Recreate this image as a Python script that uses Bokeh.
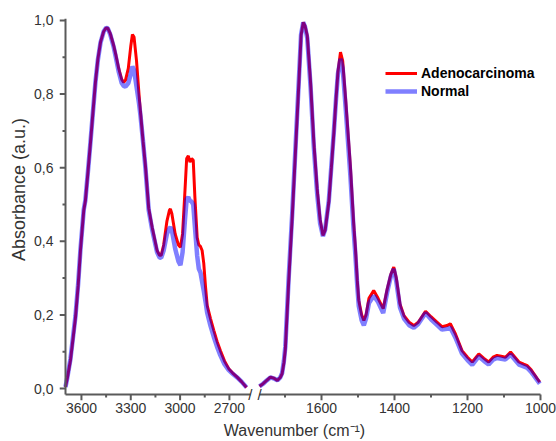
from bokeh.plotting import figure
from bokeh.models import (Range1d, FixedTicker, CustomJSTickFormatter, Label,
                          Legend, LegendItem, ColumnDataSource)
from bokeh.core.properties import value
from bokeh.layouts import row, column
from bokeh.embed import file_html
from bokeh.resources import INLINE

# ---------------- data ----------------
wn_high = [3697, 3685, 3667, 3650, 3636, 3620, 3606, 3586, 3576, 3560,
           3545, 3530, 3515, 3500, 3484, 3465, 3450, 3440, 3425, 3404,
           3390, 3373, 3355, 3343, 3332, 3315, 3300, 3290, 3280, 3265,
           3250, 3241, 3225, 3211, 3191, 3170, 3140, 3125, 3115, 3100,
           3080, 3065, 3059, 3050, 3030, 3010, 2998, 2985, 2970, 2960,
           2950, 2940, 2930, 2920, 2910, 2896, 2886, 2876, 2866, 2856,
           2845, 2835, 2815, 2795, 2775, 2755, 2730, 2704, 2680, 2653,
           2625, 2596]
adeno_high = [0.004, 0.03, 0.076, 0.14, 0.194, 0.28, 0.375, 0.484, 0.51, 0.59,
              0.669, 0.75, 0.832, 0.895, 0.941, 0.97, 0.98, 0.979, 0.965, 0.932,
              0.905, 0.869, 0.84, 0.832, 0.838, 0.87, 0.93, 0.962, 0.955, 0.89,
              0.80, 0.752, 0.67, 0.606, 0.49, 0.438, 0.375, 0.362, 0.362, 0.39,
              0.455, 0.484, 0.488, 0.475, 0.42, 0.39, 0.384, 0.42, 0.54, 0.625,
              0.632, 0.615, 0.625, 0.62, 0.52, 0.41, 0.39, 0.386, 0.375, 0.34,
              0.275, 0.225, 0.19, 0.158, 0.128, 0.103, 0.075, 0.054, 0.042, 0.031,
              0.018, 0.003]
normal_high = [0.004, 0.032, 0.08, 0.145, 0.198, 0.285, 0.378, 0.486, 0.512, 0.592,
               0.67, 0.752, 0.832, 0.893, 0.94, 0.97, 0.98, 0.979, 0.962, 0.928,
               0.898, 0.86, 0.83, 0.822, 0.82, 0.83, 0.855, 0.875, 0.865, 0.82,
               0.775, 0.742, 0.67, 0.6, 0.485, 0.432, 0.37, 0.356, 0.355, 0.375,
               0.42, 0.435, 0.438, 0.43, 0.38, 0.345, 0.335, 0.37, 0.46, 0.515,
               0.52, 0.51, 0.508, 0.5, 0.44, 0.36, 0.325, 0.315, 0.29, 0.265,
               0.235, 0.205, 0.17, 0.14, 0.113, 0.09, 0.066, 0.05, 0.04, 0.03,
               0.018, 0.003]

wn_low = [1770, 1760, 1750, 1740, 1730, 1721, 1713, 1708, 1703, 1699,
          1690, 1680, 1671, 1662, 1656, 1650, 1645, 1639, 1630, 1621,
          1612, 1604, 1596, 1590, 1580, 1573, 1566, 1560, 1555, 1548,
          1542, 1534, 1521, 1512, 1507, 1502, 1498, 1490, 1484, 1478,
          1470, 1457, 1445, 1431, 1420, 1410, 1402, 1395, 1385, 1374,
          1360, 1347, 1335, 1315, 1300, 1283, 1270, 1256, 1247, 1233,
          1215, 1200, 1187, 1169, 1155, 1142, 1130, 1119, 1108, 1096,
          1082, 1070, 1059, 1046, 1036, 1025, 1018, 1010, 1002]
adeno_low = [0.006, 0.013, 0.022, 0.031, 0.028, 0.022, 0.03, 0.04, 0.07, 0.108,
             0.289, 0.47, 0.651, 0.832, 0.959, 0.995, 0.985, 0.959, 0.832, 0.669,
             0.543, 0.46, 0.416, 0.43, 0.506, 0.6, 0.697, 0.79, 0.86, 0.914,
             0.89, 0.787, 0.606, 0.45, 0.38, 0.293, 0.24, 0.2, 0.185, 0.2,
             0.245, 0.266, 0.245, 0.217, 0.27, 0.31, 0.33, 0.3, 0.23, 0.198,
             0.18, 0.171, 0.18, 0.21, 0.195, 0.18, 0.168, 0.171, 0.176, 0.148,
             0.103, 0.085, 0.072, 0.094, 0.082, 0.072, 0.085, 0.09, 0.088, 0.085,
             0.099, 0.085, 0.072, 0.066, 0.062, 0.05, 0.04, 0.028, 0.017]
normal_low = [0.006, 0.013, 0.022, 0.03, 0.027, 0.022, 0.03, 0.042, 0.075, 0.115,
              0.3, 0.48, 0.66, 0.84, 0.962, 0.995, 0.982, 0.952, 0.82, 0.655,
              0.53, 0.45, 0.414, 0.432, 0.51, 0.605, 0.7, 0.79, 0.855, 0.896,
              0.87, 0.765, 0.58, 0.43, 0.36, 0.278, 0.225, 0.185, 0.172, 0.19,
              0.232, 0.252, 0.235, 0.205, 0.262, 0.305, 0.325, 0.29, 0.22, 0.19,
              0.172, 0.165, 0.175, 0.205, 0.188, 0.172, 0.16, 0.162, 0.165, 0.138,
              0.095, 0.077, 0.064, 0.087, 0.075, 0.065, 0.078, 0.083, 0.081, 0.079,
              0.092, 0.078, 0.065, 0.06, 0.056, 0.044, 0.035, 0.024, 0.013]

series_names = ["Adenocarcinoma", "Normal"]
y_ticks = [0.0, 0.2, 0.4, 0.6, 0.8, 1.0]
y_minor = [0.1, 0.3, 0.5, 0.7, 0.9]
x_ticks_high = [3600, 3300, 3000, 2700]
x_minor_high = [3450, 3150, 2850]
x_ticks_low = [1600, 1400, 1200, 1000]
x_minor_low = [1700, 1500, 1300, 1100]
high_span = (3697, 2572)      # extent of the left axis segment
low_span = (1770, 1000)       # extent of the right axis segment

# ---------------- layout / styling ----------------
FONT = "Liberation Sans"
AXC = "#5a5a5a"
TXT = "#333333"
RED = "#ff0000"
BLUE = "#0000ff"

FRAME_H = 382                              # frame height in px
Y_START, Y_END = -0.0326, 1.0054
PX_Y = (Y_END - Y_START) / FRAME_H         # data units per px (y)
Y_AXIS = Y_START + 6 * PX_Y                # x-axis line sits 6 px above frame bottom
y_range = Range1d(Y_START, Y_END)

XR_HIGH = (3733.5, 2547.4)                 # left frame: 195 px wide
XR_LOW = (1783.6, 994.5)                   # right frame: 288 px wide
PX_XH = (XR_HIGH[0] - XR_HIGH[1]) / 195
PX_XL = (XR_LOW[0] - XR_LOW[1]) / 288


def hide_axis_marks(ax):
    ax.axis_line_color = None
    ax.major_tick_line_color = None
    ax.minor_tick_line_color = None
    ax.major_tick_in = 0
    ax.major_tick_out = 0
    ax.minor_tick_in = 0
    ax.minor_tick_out = 0
    ax.major_label_text_font = FONT
    ax.major_label_text_font_size = "14px"
    ax.major_label_text_color = TXT


def draw_x_axis(p, span, ticks, minor):
    """Axis rule and ticks drawn as filled bars inside the frame."""
    p.rect(x=[(span[0] + span[1]) / 2], y=Y_AXIS, width=abs(span[0] - span[1]),
           height=2, height_units="screen", fill_color=AXC, line_color=None)
    p.rect(x=ticks, y=Y_AXIS - 3 * PX_Y, width=2, width_units="screen",
           height=6, height_units="screen", fill_color=AXC, line_color=None)
    p.rect(x=minor, y=Y_AXIS - 1.5 * PX_Y, width=2, width_units="screen",
           height=3, height_units="screen", fill_color=AXC, line_color=None)


def break_mark(p, x):
    src = ColumnDataSource(dict(x=[x], y=[Y_AXIS], s=["/"]))
    p.text(x="x", y="y", text="s", source=src, text_align="center",
           text_baseline="middle", text_font=value(FONT),
           text_font_size="15px", text_color=TXT)


common = dict(height=419, y_range=y_range, toolbar_location=None,
              output_backend="svg", min_border_top=18, min_border_bottom=19)

# ---------- left (high wavenumber) panel ----------
p1 = figure(width=254, x_range=Range1d(*XR_HIGH),
            min_border_left=59, min_border_right=0, **common)
p1.outline_line_color = None
p1.grid.visible = False
src_h = ColumnDataSource(dict(x=wn_high, a=adeno_high, n=normal_high))
p1.line("x", "a", source=src_h, line_color=RED, line_width=3)
p1.line("x", "n", source=src_h, line_color=BLUE, line_alpha=0.5, line_width=4.5)

xa1 = p1.xaxis[0]
hide_axis_marks(xa1)
xa1.ticker = FixedTicker(ticks=x_ticks_high, minor_ticks=x_minor_high)
xa1.major_label_standoff = 2
draw_x_axis(p1, high_span, x_ticks_high, x_minor_high)
break_mark(p1, high_span[1])

ya = p1.yaxis[0]
hide_axis_marks(ya)
ya.ticker = FixedTicker(ticks=y_ticks, minor_ticks=y_minor)
ya.formatter = CustomJSTickFormatter(code="return tick.toFixed(1).replace('.', ',');")
ya.major_label_standoff = 6
ya.axis_label = "\u00a0" * 8 + "Absorbance (a.u.)"
ya.axis_label_standoff = 2
ya.axis_label_text_font = FONT
ya.axis_label_text_font_size = "18px"
ya.axis_label_text_font_style = "normal"
ya.axis_label_text_color = TXT
# y-axis rule and ticks (filled bars inside the frame)
p1.rect(x=high_span[0], y=(Y_AXIS + Y_END) / 2, width=2, width_units="screen",
        height=Y_END - Y_AXIS, fill_color=AXC, line_color=None)
p1.rect(x=high_span[0] + 3 * PX_XH, y=y_ticks, width=6, width_units="screen",
        height=2, height_units="screen", fill_color=AXC, line_color=None)
p1.rect(x=high_span[0] + 1.5 * PX_XH, y=y_minor, width=3, width_units="screen",
        height=2, height_units="screen", fill_color=AXC, line_color=None)

# ---------- right (fingerprint) panel ----------
p2 = figure(width=302, x_range=Range1d(*XR_LOW), y_axis_location=None,
            min_border_left=0, min_border_right=14, **common)
p2.outline_line_color = None
p2.grid.visible = False
src_l = ColumnDataSource(dict(x=wn_low, a=adeno_low, n=normal_low))
r_a = p2.line("x", "a", source=src_l, line_color=RED, line_width=3)
r_n = p2.line("x", "n", source=src_l, line_color=BLUE, line_alpha=0.5, line_width=4.5)

xa2 = p2.xaxis[0]
hide_axis_marks(xa2)
xa2.ticker = FixedTicker(ticks=x_ticks_low, minor_ticks=x_minor_low)
xa2.major_label_standoff = 2
draw_x_axis(p2, low_span, x_ticks_low, x_minor_low)
break_mark(p2, low_span[0])

legend = Legend(items=[LegendItem(label=series_names[0], renderers=[r_a]),
                       LegendItem(label=series_names[1], renderers=[r_n])],
                location=(131, 301), orientation="vertical",
                glyph_width=32, glyph_height=16, label_height=16,
                label_standoff=4, spacing=2, padding=0, margin=0,
                border_line_color=None, background_fill_alpha=0,
                label_text_font=FONT, label_text_font_style="bold",
                label_text_font_size="14px", label_text_color="black")
p2.add_layout(legend)

# ---------- x-axis title strip spanning both panels ----------
p3 = figure(width=556, height=22, toolbar_location=None, output_backend="svg",
            x_axis_location=None, y_axis_location=None, title_location=None,
            min_border=0, min_border_left=0, min_border_right=0,
            min_border_top=0, min_border_bottom=0)
p3.outline_line_color = None
p3.grid.visible = False
p3.add_layout(Label(x=294, y=11, x_units="screen", y_units="screen",
                    text="Wavenumber (cm\u207b\u00b9)", text_align="center",
                    text_baseline="middle", text_font=FONT,
                    text_font_size="16px", text_color=TXT))

layout = column(row(p1, p2), p3)
open("out.html", "w").write(file_html(layout, INLINE))
